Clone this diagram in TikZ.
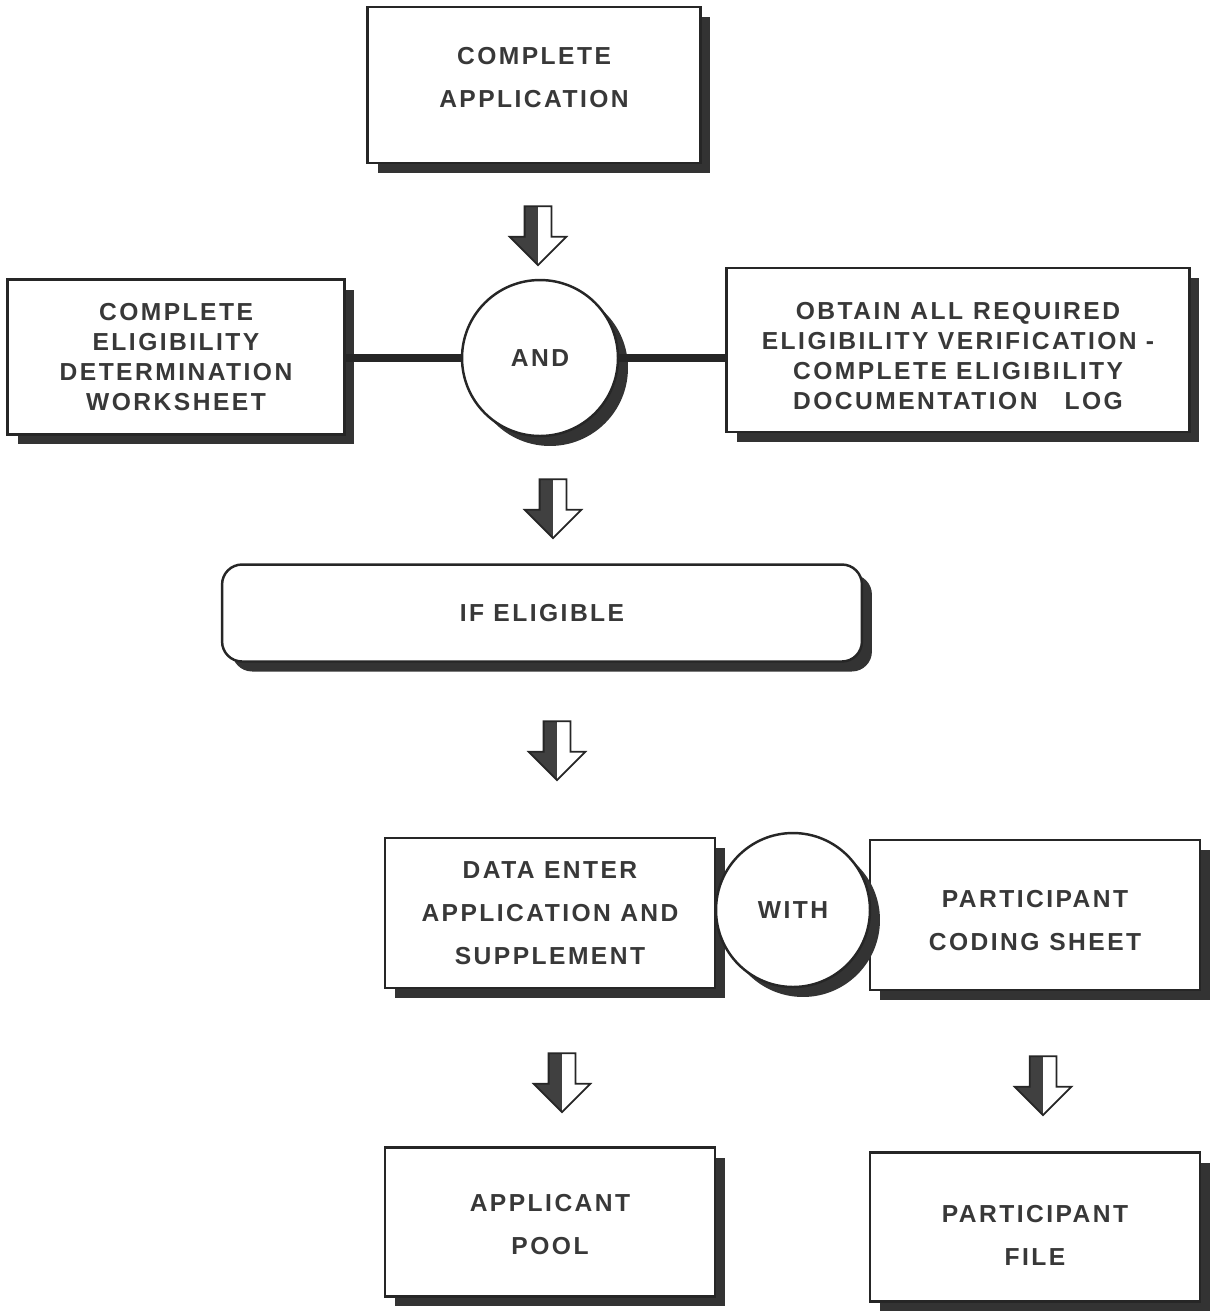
\documentclass[tikz,border=0pt]{standalone}
\usepackage{fontspec}
\setmainfont{Liberation Sans}[LetterSpace=10]
\usetikzlibrary{shapes.arrows,shadows}
% raise/lower the text inside a box
\newcommand{\padtop}[1]{\rule{0pt}{#1}}
\newcommand{\padbot}[1]{\rule[-#1]{0pt}{#1}}

\begin{document}
\begin{tikzpicture}[x=0.02cm,y=-0.02cm,
  every node/.style={font=\bfseries\fontsize{14}{24.5}\selectfont, text=black!78, align=center},
  tight/.style={font=\bfseries\fontsize{14}{17}\selectfont},
  box/.style={draw=black!85, line width=1.4pt, fill=white, inner sep=0pt,
    drop shadow={shadow xshift=0.2cm, shadow yshift=-0.2cm, fill=black!80, opacity=1}},
  joiner/.style={circle, box, minimum size=3.12cm},
  dn/.style={single arrow, shape border rotate=270, draw=black!85, line width=1pt, fill=white,
    inner sep=0.25cm, single arrow head extend=0.3cm, minimum height=1.18cm,
    path picture={\fill[black!75] (path picture bounding box.north west) rectangle (path picture bounding box.south);}},
  link/.style={draw=black!85, line width=4.5pt}]
  \useasboundingbox (0,0) rectangle (1218,1313);

  \node[box, minimum width=6.66cm, minimum height=3.12cm] (app) at (534,85) {COMPLETE\\APPLICATION\padbot{0.32cm}};
  \node[dn] (a1) at (538,229) {};

  \node[box, tight, minimum width=6.74cm, minimum height=3.1cm] (elig) at (176,357) {COMPLETE\\ELIGIBILITY\\DETERMINATION\\WORKSHEET};
  \node[joiner] (both) at (540,358) {AND};
  \node[box, tight, minimum width=9.26cm, minimum height=3.28cm] (verif) at (958,350)
    {\padtop{0.59cm}OBTAIN\hspace{0.4em}ALL\hspace{0.4em}REQUIRED\\ELIGIBILITY VERIFICATION -\\COMPLETE ELIGIBILITY\\DOCUMENTATION\hspace{1.1em}LOG};
  \draw[link] (elig.east |- both) -- (both.west);
  \draw[link] (both.east) -- (both.east -| verif.west);
  \node[dn] (a2) at (553,502) {};

  \node[box, rounded corners=0.4cm, minimum width=12.8cm, minimum height=1.94cm] (ifelig) at (542,613) {IF ELIGIBLE};
  \node[dn] (a3) at (557,744) {};

  \node[box, minimum width=6.6cm, minimum height=3cm] (enter) at (550,913) {DATA ENTER\\APPLICATION AND\\SUPPLEMENT};
  \node[box, minimum width=6.6cm, minimum height=3cm] (coding) at (1035,915) {\padtop{0.55cm}PARTICIPANT\\CODING\hspace{0.4em}SHEET};
  \node[joiner, minimum size=3.08cm] (with) at (793,910) {WITH};
  \node[dn] (a4) at (562,1076) {};
  \node[dn] (a5) at (1043,1079) {};

  \node[box, minimum width=6.6cm, minimum height=2.98cm] (pool) at (550,1222) {\padtop{0.43cm}APPLICANT\\POOL};
  \node[box, minimum width=6.6cm, minimum height=2.98cm] (pfile) at (1035,1227) {\padtop{0.67cm}PARTICIPANT\\FILE};
\end{tikzpicture}
\end{document}
